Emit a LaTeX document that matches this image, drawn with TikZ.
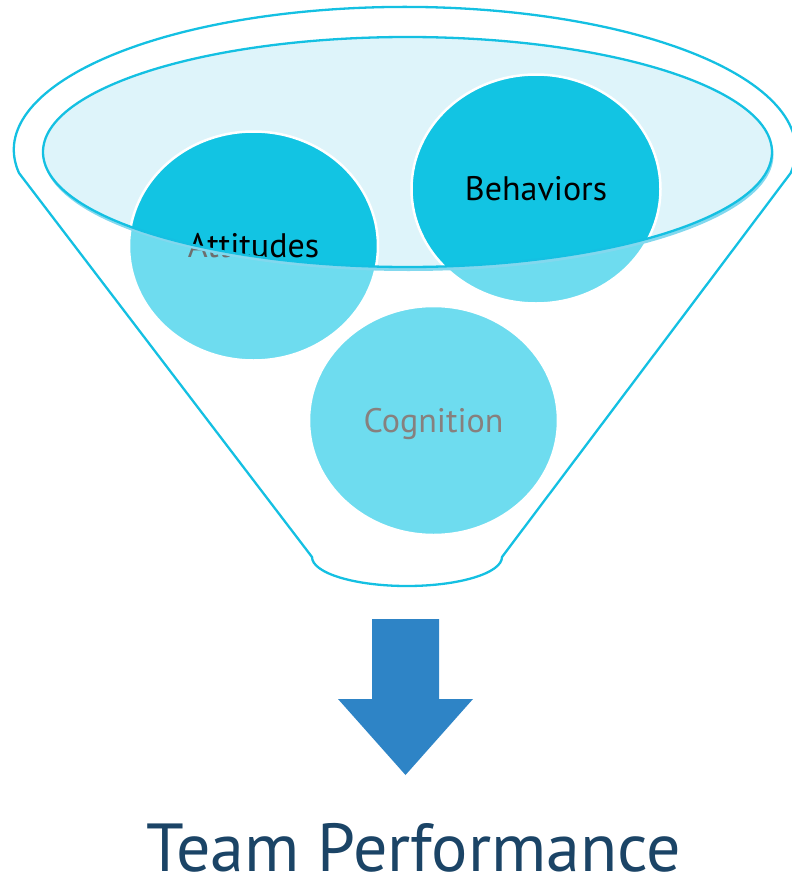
\documentclass[tikz,border=0pt]{standalone}
\usepackage[rgb]{xcolor}
\usepackage{fontspec}
\setmainfont{PT Sans}
\usetikzlibrary{shapes.geometric}

\definecolor{funnelcyan}{RGB}{20,192,226}
\definecolor{balldeep}{RGB}{18,196,227}
\definecolor{ballpale}{RGB}{110,220,239}
\definecolor{rimfill}{RGB}{222,244,250}
\definecolor{rimshade}{RGB}{130,216,238}
\definecolor{arrowblue}{RGB}{46,132,198}
\definecolor{titlenavy}{RGB}{27,68,102}
\definecolor{txtgrey}{RGB}{110,110,110}
\definecolor{coggrey}{RGB}{135,128,126}

\tikzset{
	bubble/.style={ellipse, draw=white, line width=2.5pt, minimum width=249pt, minimum height=229pt, inner sep=0pt, text height=23.5pt, text depth=0pt, font=\fontsize{34}{40}\selectfont},
	paleball/.style={bubble, fill=ballpale, text=txtgrey},
	deepball/.style={bubble, fill=balldeep, text=black}
}

\begin{document}
\begin{tikzpicture}[x=1pt, y=-1pt]

\useasboundingbox (0,0) rectangle (792,878);
\clip (0,0) rectangle (792,878);

% Draws the outline of the funnel
\draw [funnelcyan, line width=2.3pt, line join=round] (19,173)
	arc [start angle=170.7, end angle=369.3, x radius=391, y radius=143]
	-- (502,557) arc [start angle=0, end angle=180, x radius=95, y radius=29]
	-- cycle;

% Draws the three balls, pale where they lie outside the rim
\node [paleball] (att) at (253.5,246) {Attitudes};
\node [paleball] (beh) at (536,189) {Behaviors};
\node [paleball, text=coggrey] (cog) at (433.5,420.5) {Cognition};

% Draws the rim of the funnel with its shade
\draw [draw=none, fill=rimshade] (408.5,155) ellipse [x radius=365, y radius=116];
\draw [draw=none, fill=rimfill] (407.5,152) ellipse [x radius=364.5, y radius=115];

% Draws the parts of the balls inside the rim again, darker
\begin{scope}
	\clip (407.5,152) ellipse [x radius=364.5, y radius=115];
	\node [deepball] (attin) at (253.5,246) {Attitudes};
	\node [deepball] (behin) at (536,189) {Behaviors};
\end{scope}
\draw [funnelcyan, line width=2.3pt] (407.5,152) ellipse [x radius=364.5, y radius=115];

% Draws the arrow out of the funnel and the result
\fill [arrowblue] (372,619) -- (439,619) -- (439,699) -- (473,699) -- (405.5,775) -- (338,699) -- (372,699) -- cycle;
\node [text=titlenavy, font=\fontsize{68}{80}\selectfont, text height=47pt, text depth=0pt, inner sep=0pt] (perf) at (414,848) {Team Performance};

\end{tikzpicture}
\end{document}
